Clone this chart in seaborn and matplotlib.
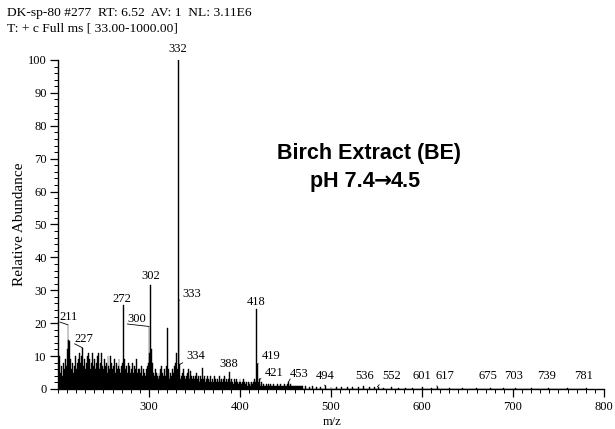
import numpy as np
import pandas as pd
import matplotlib
matplotlib.use("Agg")
import matplotlib.pyplot as plt
from matplotlib.ticker import MultipleLocator, FixedLocator
import seaborn as sns

# ---------------- data ----------------
# intensities for every integer m/z from 200 to 469
mz_start = 200
intensity = [
    9, 6, 10, 5, 7, 4, 8, 6, 9, 7,          # 200-209
    12, 19.5, 15, 14.5, 9, 6, 8, 5, 7, 10,  # 210-219
    6, 8, 7, 9, 11, 8, 10, 12.5, 7, 9,      # 220-229
    6, 8, 10, 7, 11, 9, 6, 8, 11, 7,        # 230-239
    9, 6, 8, 10, 7, 11, 6, 8, 11, 7,        # 240-249
    6, 9, 7, 8, 5, 10, 7, 6, 10, 8,         # 250-259
    6, 7, 9, 5, 8, 6, 7, 9, 6, 5,           # 260-269
    7, 8, 25.5, 9, 6, 7, 5, 8, 6, 7,        # 270-279
    5, 6, 8, 5, 7, 6, 9, 5, 6, 4,           # 280-289
    6, 5, 7, 4, 6, 5, 4, 6, 7, 8,           # 290-299
    19, 11, 31.5, 12, 8, 5, 4, 6, 5, 4,     # 300-309
    3, 5, 4, 6, 7, 5, 4, 6, 4, 7,           # 310-319
    18.5, 6, 4, 3, 5, 4, 6, 5, 7, 8,        # 320-329
    11, 6, 100, 27, 7.5, 3, 4, 5, 6, 4,     # 330-339
    3, 4, 5, 6, 4, 3, 5.5, 4, 3, 4,         # 340-349
    3, 4, 5, 3, 4, 3, 2, 4, 3, 6.5,         # 350-359
    3, 4, 2, 3, 4, 3, 2, 3, 4, 2,           # 360-369
    3, 2, 4, 3, 2, 3, 2, 4, 3, 2,           # 370-379
    3, 2, 3, 4, 2, 3, 2, 3, 5.3, 3,         # 380-389
    2, 3, 2, 1.5, 3, 2, 3, 2, 1.5, 2,       # 390-399
    3, 2, 1.5, 2, 3, 2, 1.5, 2, 1, 2,       # 400-409
    1.5, 2, 1, 2, 1.5, 2, 3, 2, 24.3, 7.5,  # 410-419
    2, 3, 1.5, 1, 2, 1, 1.5, 1, 1, 1.5,     # 420-429
    1, 1.5, 1, 1, 1.5, 1, 1, 1.5, 1, 1,     # 430-439
    1, 1.5, 1, 1, 1, 1.5, 1, 1, 1, 1.5,     # 440-449
    1, 1, 1.5, 2, 1, 1, 1.5, 1, 1, 1,       # 450-459
    1, 0.8, 1, 0.8, 1, 0.8, 0.8, 1, 0.8, 0.8,  # 460-469
]
# sparse small tail peaks beyond 470
tail_mz = [472, 476, 480, 484, 488, 494, 500, 506, 512, 518, 524, 530, 536,
           542, 548, 552, 558, 566, 574, 582, 590, 601, 610, 617, 630, 645,
           660, 675, 690, 703, 720, 739, 760, 781]
tail_int = [0.8, 0.7, 0.8, 0.6, 0.7, 1.0, 0.6, 0.7, 0.5, 0.6, 0.5, 0.6, 0.8,
            0.5, 0.5, 0.7, 0.4, 0.5, 0.4, 0.4, 0.4, 0.6, 0.3, 0.5, 0.3, 0.3,
            0.3, 0.4, 0.3, 0.4, 0.3, 0.3, 0.3, 0.3]

# peak labels: text, peak m/z, peak height, label m/z, label height, leader?
lab_text = ["332", "211", "227", "272", "300", "302", "333", "418", "334",
            "388", "419", "421", "453", "494", "536", "552", "601", "617",
            "675", "703", "739", "781"]
lab_peak_mz = [332, 211, 227, 272, 300, 302, 333, 418, 334, 388, 419, 421,
               453, 494, 536, 551, 601, 617, 675, 703, 739, 781]
lab_peak_h = [100, 19.5, 12.5, 25.5, 19, 31.5, 27, 24.3, 7.5, 5.3, 7.5, 3,
              2, 1.0, 0.8, 0.7, 0.6, 0.5, 0.4, 0.4, 0.3, 0.3]
lab_x = [332, 212, 228.5, 270, 286.5, 302, 347.5, 417.5, 351, 388, 434, 437,
         465.5, 494, 537.5, 567, 600, 625, 673, 700.5, 737, 778]
lab_y = [103.3, 21.8, 15.2, 27.3, 21.2, 34.2, 28.8, 26.4, 10, 7.6, 10, 4.8,
         4.5, 4.0, 3.8, 3.8, 3.8, 3.8, 3.8, 3.8, 3.8, 3.8]
lab_leader = [False, True, True, False, True, False, True, False, True,
              False, True, True, True, True, False, True, False, True,
              False, False, False, False]

x_major = [300, 400, 500, 600, 700, 800]
y_major = [0, 10, 20, 30, 40, 50, 60, 70, 80, 90, 100]

header1 = "DK-sp-80 #277  RT: 6.52  AV: 1  NL: 3.11E6"
header2 = "T: + c Full ms [ 33.00-1000.00]"
title1 = "Birch Extract (BE)"
title2_a = "pH 7.4"
title2_arrow = "\u2192"
title2_b = "4.5"

# ---------------- build table ----------------
mz_all = list(range(mz_start, mz_start + len(intensity))) + tail_mz
int_all = list(intensity) + tail_int
df = pd.DataFrame({"mz": mz_all, "intensity": int_all})

# ---------------- plot ----------------
sns.set_theme(style="ticks")
serif = ["Liberation Serif", "DejaVu Serif"]
plt.rcParams["font.family"] = serif
plt.rcParams["text.color"] = "black"

fig = plt.figure(figsize=(6.15, 4.29), dpi=100)
ax = fig.add_axes([0.0943, 0.0933, 0.8878, 0.7669])

sns.histplot(data=df, x="mz", weights="intensity", discrete=True,
             color="black", edgecolor="black", linewidth=0.3, alpha=1.0,
             ax=ax)

ax.set_xlim(200, 800)
ax.set_ylim(0, 100)
sns.despine(ax=ax)
for s in ["left", "bottom"]:
    ax.spines[s].set_linewidth(1.0)
    ax.spines[s].set_color("black")

ax.xaxis.set_major_locator(FixedLocator(x_major))
ax.xaxis.set_minor_locator(MultipleLocator(10))
ax.yaxis.set_major_locator(FixedLocator(y_major))
ax.yaxis.set_minor_locator(MultipleLocator(2))
ax.tick_params(axis="both", which="major", direction="out", length=6,
               width=0.9, color="black", labelsize=9, labelcolor="black", pad=2)
ax.tick_params(axis="both", which="minor", direction="out", length=3,
               width=0.7, color="black")
ax.tick_params(axis="x", which="major", pad=3)

ax.set_xlabel("m/z", fontsize=9, color="black")
ax.set_ylabel("Relative Abundance", fontsize=11, color="black")
ax.xaxis.set_label_coords(0.502, -0.083)
ax.yaxis.set_label_coords(-0.058, 0.5)

# peak labels
for t, pm, ph, lx, ly, lead in zip(lab_text, lab_peak_mz, lab_peak_h,
                                   lab_x, lab_y, lab_leader):
    if lead:
        ax.annotate(t, xy=(pm, ph), xytext=(lx, ly), ha="center", va="center",
                    fontsize=9, color="black", annotation_clip=False,
                    arrowprops=dict(arrowstyle="-", lw=0.6, color="black",
                                    shrinkA=0, shrinkB=0, relpos=(0.0, 0.1)))
    else:
        ax.text(lx, ly, t, ha="center", va="center", fontsize=9,
                color="black", clip_on=False)

# header texts
fig.text(0.012, 0.970, header1, ha="left", va="center", fontsize=9.7,
         color="black")
fig.text(0.012, 0.933, header2, ha="left", va="center", fontsize=9.7,
         color="black")

sans_bold = ["Liberation Sans", "DejaVu Sans"]
fig.text(0.600, 0.643, title1, ha="center", va="center", fontsize=15.5,
         fontweight="bold", family=sans_bold, color="black")
arrow_x = 0.622
fig.text(arrow_x - 0.013, 0.576, title2_a, ha="right", va="center",
         fontsize=15.5, fontweight="bold", family=sans_bold, color="black")
fig.text(arrow_x, 0.578, title2_arrow, ha="center", va="center",
         fontsize=15.5, fontweight="bold", family=["DejaVu Sans"],
         color="black")
fig.text(arrow_x + 0.013, 0.576, title2_b, ha="left", va="center",
         fontsize=15.5, fontweight="bold", family=sans_bold, color="black")

fig.savefig("out.png", dpi=100)
